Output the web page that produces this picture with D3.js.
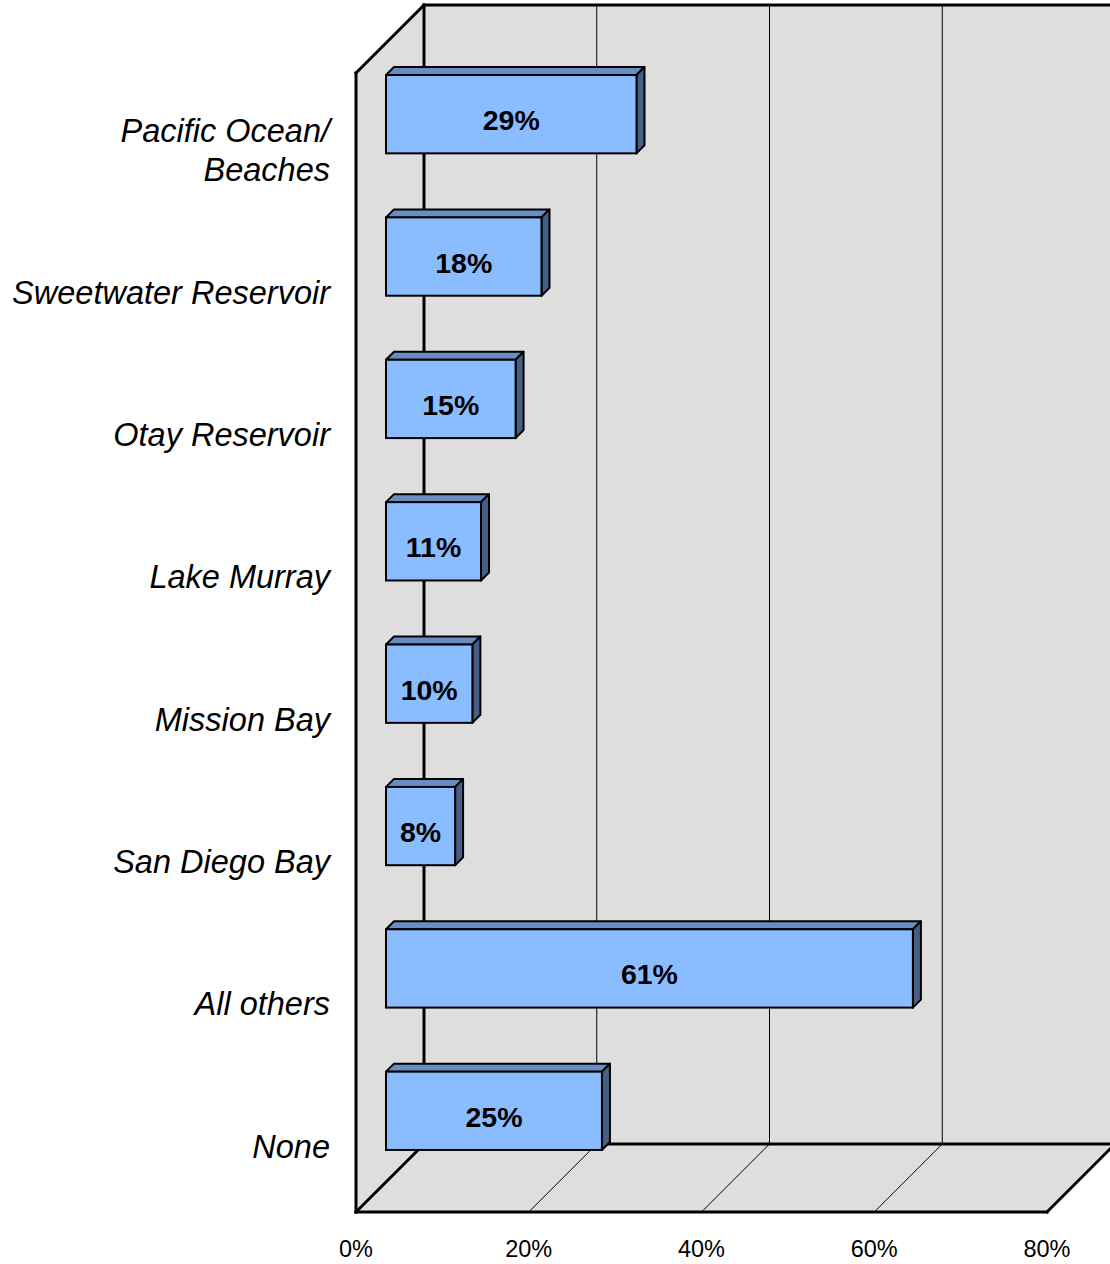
<!DOCTYPE html>
<html>
<head>
<meta charset="utf-8">
<script src="https://cdn.jsdelivr.net/npm/d3@7"></script>
<style>
  body { margin: 0; background: #fff; }
  svg text { font-family: Arial, "Liberation Sans", sans-serif; }
</style>
</head>
<body>
<svg id="chart"></svg>
<script>
// data
var categories = ["Pacific Ocean/|Beaches", "Sweetwater Reservoir", "Otay Reservoir", "Lake Murray",
                  "Mission Bay", "San Diego Bay", "All others", "None"];
var values = [29, 18, 15, 11, 10, 8, 61, 25];
var ticks = [0, 20, 40, 60, 80];

var svgWidth = 1110, svgHeight = 1264;
var depth = 68;          // offset of the back wall
var barShift = 30;       // bars sit part way into the depth
var barDepth = 8;

var svg = d3.select("svg#chart")
  .attr("width", svgWidth)
  .attr("height", svgHeight);

// front plane scales
var x = d3.scaleLinear().domain([0, 80]).range([356, 1047]);
var y = d3.scaleBand().domain(categories).range([73, 1212]).paddingInner(0.45).paddingOuter(0.225);

var top0 = 73, bot0 = 1212;

// side wall
svg.append("polygon")
  .attr("points", [[x(0), top0], [x(0) + depth, top0 - depth], [x(0) + depth, bot0 - depth], [x(0), bot0]].join(" "))
  .style("fill", "#dedede");

// back wall
svg.append("rect")
  .attr("x", x(0) + depth)
  .attr("y", top0 - depth)
  .attr("width", x(80) - x(0))
  .attr("height", bot0 - top0)
  .style("fill", "#dedede");

// floor
svg.append("polygon")
  .attr("points", [[x(0), bot0], [x(80), bot0], [x(80) + depth, bot0 - depth], [x(0) + depth, bot0 - depth]].join(" "))
  .style("fill", "#dedede");

// grid on back wall
svg.selectAll("line.grid")
  .data(ticks.slice(1, -1))
  .enter().append("line")
  .attr("class", "grid")
  .attr("x1", function(d) { return x(d) + depth; })
  .attr("x2", function(d) { return x(d) + depth; })
  .attr("y1", top0 - depth)
  .attr("y2", bot0 - depth)
  .style("stroke", "#000")
  .style("stroke-width", "1px");

// grid on floor
svg.selectAll("line.floorgrid")
  .data(ticks.slice(1, -1))
  .enter().append("line")
  .attr("class", "floorgrid")
  .attr("x1", function(d) { return x(d); })
  .attr("y1", bot0)
  .attr("x2", function(d) { return x(d) + depth; })
  .attr("y2", bot0 - depth)
  .style("stroke", "#000")
  .style("stroke-width", "1px");

// thick outlines
var thick = [
  [[x(0), top0], [x(0) + depth, top0 - depth]],
  [[x(0) + depth, top0 - depth], [svgWidth, top0 - depth]],
  [[x(0) + depth, top0 - depth], [x(0) + depth, bot0 - depth]],
  [[x(0) + depth, bot0 - depth], [svgWidth, bot0 - depth]],
  [[x(0), top0], [x(0), bot0]],
  [[x(0), bot0], [x(0) + depth, bot0 - depth]],
  [[x(0), bot0], [x(80), bot0]],
  [[x(80), bot0], [x(80) + depth, bot0 - depth]]
];
svg.selectAll("line.frame")
  .data(thick)
  .enter().append("line")
  .attr("class", "frame")
  .attr("x1", function(d) { return d[0][0]; })
  .attr("y1", function(d) { return d[0][1]; })
  .attr("x2", function(d) { return d[1][0]; })
  .attr("y2", function(d) { return d[1][1]; })
  .style("stroke", "#000")
  .style("stroke-width", "3px")
  .style("stroke-linecap", "square");

// bars
var data = categories.map(function(c, i) { return { cat: c, value: values[i] }; });

var bars = svg.selectAll("g.bar")
  .data(data)
  .enter().append("g")
  .attr("class", "bar")
  .attr("transform", function(d) { return "translate(" + barShift + "," + (-barShift) + ")"; });

var bw = y.bandwidth();

// top face
bars.append("polygon")
  .attr("points", function(d) {
    var x0 = x(0), x1 = x(d.value), y0 = y(d.cat);
    return [[x0, y0], [x0 + barDepth, y0 - barDepth], [x1 + barDepth, y0 - barDepth], [x1, y0]].join(" ");
  })
  .style("fill", "#678dc2")
  .style("stroke", "#000")
  .style("stroke-width", "2px")
  .style("stroke-linejoin", "round");

// side face
bars.append("polygon")
  .attr("points", function(d) {
    var x1 = x(d.value), y0 = y(d.cat);
    return [[x1, y0], [x1 + barDepth, y0 - barDepth], [x1 + barDepth, y0 + bw - barDepth], [x1, y0 + bw]].join(" ");
  })
  .style("fill", "#455f86")
  .style("stroke", "#000")
  .style("stroke-width", "2px")
  .style("stroke-linejoin", "round");

// front face
bars.append("rect")
  .attr("x", x(0))
  .attr("y", function(d) { return y(d.cat); })
  .attr("width", function(d) { return x(d.value) - x(0); })
  .attr("height", bw)
  .style("fill", "#8abdff")
  .style("stroke", "#000")
  .style("stroke-width", "2px");

bars.append("text")
  .attr("x", function(d) { return (x(0) + x(d.value)) / 2; })
  .attr("y", function(d) { return y(d.cat) + bw / 2 + 16; })
  .attr("text-anchor", "middle")
  .style("font-weight", "bold")
  .style("font-size", "28.5px")
  .style("fill", "#000")
  .text(function(d) { return d.value + "%"; });

// category labels
var labels = svg.selectAll("text.cat")
  .data(categories)
  .enter().append("text")
  .attr("class", "cat")
  .attr("text-anchor", "end")
  .style("font-style", "italic")
  .style("font-size", "32.5px")
  .style("fill", "#000");

labels.each(function(d) {
  var lines = d.split("|");
  var cy = y(d) + bw / 2;
  var lh = 39;
  var t = d3.select(this);
  lines.forEach(function(l, j) {
    t.append("tspan")
      .attr("x", 330)
      .attr("y", cy + 17 + (j - (lines.length - 1) / 2) * lh)
      .text(l);
  });
});

// x axis tick labels
svg.selectAll("text.tick")
  .data(ticks)
  .enter().append("text")
  .attr("class", "tick")
  .attr("x", function(d) { return x(d); })
  .attr("y", 1257)
  .attr("text-anchor", "middle")
  .style("font-size", "23.5px")
  .style("fill", "#000")
  .text(function(d) { return d + "%"; });
</script>
</body>
</html>
